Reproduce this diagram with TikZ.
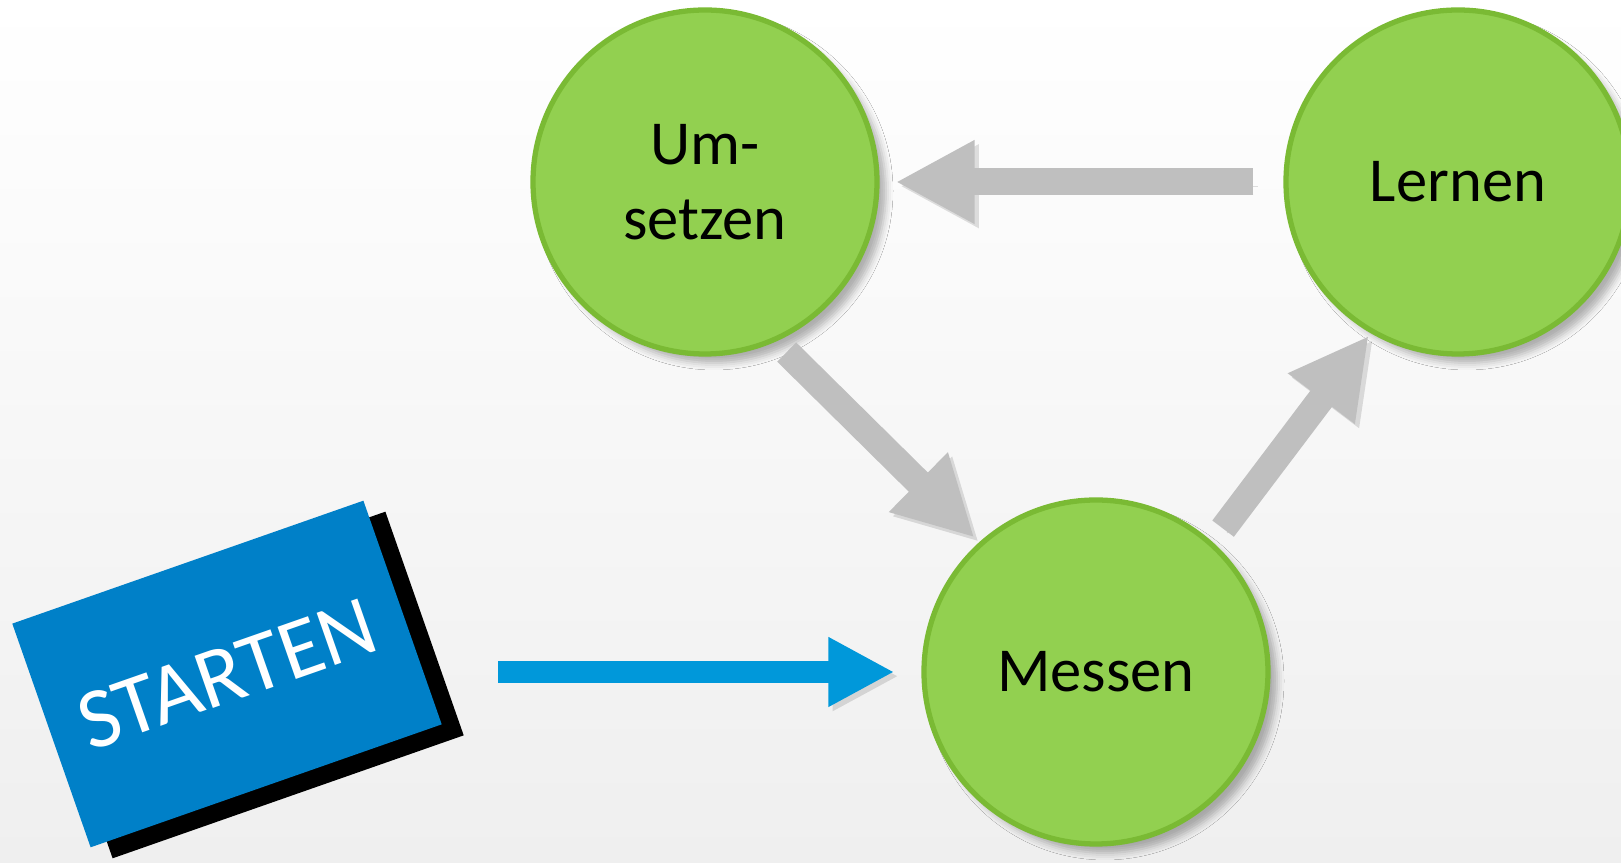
\documentclass[tikz,border=0pt]{standalone}
\usepackage{fontspec}
\setmainfont{Carlito}
\usetikzlibrary{arrows.meta,shadows.blur}
\definecolor{phasegreen}{RGB}{146,208,80}
\definecolor{phaseedge}{RGB}{122,186,52}
\definecolor{flowgray}{RGB}{191,191,191}
\definecolor{kickblue}{RGB}{0,152,218}
\definecolor{startblue}{RGB}{0,128,200}
\definecolor{bgbottom}{RGB}{239,239,239}
\begin{document}
\begin{tikzpicture}[phase/.style={circle,fill=phasegreen,draw=phaseedge,line width=1.5pt,minimum size=3.44cm,inner sep=0pt,align=center,font=\fontsize{17.8}{21.3}\selectfont,blur shadow={shadow xshift=0.09cm,shadow yshift=-0.09cm,shadow blur radius=0.07cm,shadow opacity=30}},
flow/.style={draw=flowgray,line width=0.27cm,-{Triangle[length=0.79cm,width=0.78cm]},preaction={draw=black,opacity=0.12,transform canvas={xshift=1.2pt,yshift=-1.2pt}}},
kick/.style={draw=kickblue,line width=0.22cm,-{Triangle[length=0.66cm,width=0.65cm]},preaction={draw=black,opacity=0.12,transform canvas={xshift=1.2pt,yshift=-1.2pt}}},
startbox/.style={rectangle,rotate=19.3,minimum width=3.72cm,minimum height=2.37cm,inner sep=0pt,fill=startblue,text=white,font=\fontsize{24.5}{24.5}\selectfont}]
\shade[top color=white,bottom color=bgbottom] (0,0) rectangle (16.21,8.63);
\useasboundingbox (0,0) rectangle (16.21,8.63);
%\draw[red] (0,0) grid (16,8);
\node[phase] (umsetzen) at (7.05,6.81) {Um-\\setzen};
\node[phase] (lernen) at (14.58,6.81) {Lernen};
\node[phase] (messen) at (10.96,1.91) {Messen};
\node[startbox,fill=black] (startshadow) at (2.49,1.78) {};
\node[startbox] (starten) at (2.27,1.89) {STARTEN};
\coordinate (go) at (4.98,1.91);
\draw[flow,shorten <=0.3cm,shorten >=0.16cm] (lernen) -- (umsetzen);
\draw[flow,shorten <=0.15cm,shorten >=0.065cm] (umsetzen.-66) -- (messen.132);
\draw[flow,shorten <=0.17cm,shorten >=0.03cm] (messen.48) -- (lernen.240);
\draw[kick,shorten >=0.27cm] (go) -- (messen);
\end{tikzpicture}
\end{document}
